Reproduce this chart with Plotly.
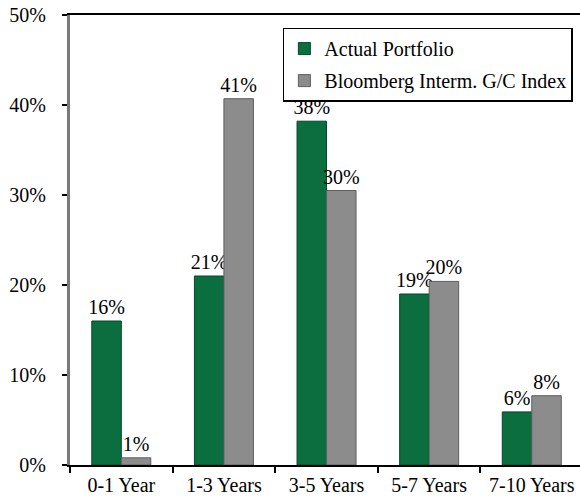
import plotly.graph_objects as go

categories = ["0-1 Year", "1-3 Years", "3-5 Years", "5-7 Years", "7-10 Years"]
portfolio = [16.0, 21.0, 38.2, 19.0, 5.9]
index_vals = [0.8, 40.7, 30.5, 20.4, 7.7]
y_ticks = [0, 10, 20, 30, 40, 50]
y_labels = ["0%", "10%", "20%", "30%", "40%", "50%"]

FONT = "Liberation Serif"

fig = go.Figure()
fig.add_trace(go.Bar(
    x=categories, y=portfolio, name="Actual Portfolio",
    marker=dict(color="#0b6e3f", line=dict(color="#05462a", width=1)),
    text=[f"{v:.0f}%" for v in portfolio], textposition="outside",
    textfont=dict(family=FONT, size=20, color="black"),
    constraintext="none",
    cliponaxis=False, legendgroup="a",
))
fig.add_trace(go.Bar(
    x=categories, y=index_vals, name="Bloomberg Interm. G/C Index",
    marker=dict(color="#8c8c8c", line=dict(color="#5e5e5e", width=1)),
    text=[f"{v:.0f}%" for v in index_vals], textposition="outside",
    textfont=dict(family=FONT, size=20, color="black"),
    constraintext="none",
    cliponaxis=False, legendgroup="b",
))

fig.update_layout(
    width=580, height=500,
    margin=dict(l=70, r=0, t=15, b=35, autoexpand=False),
    paper_bgcolor="white", plot_bgcolor="white",
    font=dict(family=FONT, size=20, color="black"),
    barmode="group", bargap=0.425, bargroupgap=0,
    showlegend=True,
    legend=dict(
        x=0.986, y=0.972, xanchor="right", yanchor="top",
        bordercolor="black", borderwidth=1.5, bgcolor="white",
        font=dict(family=FONT, size=20, color="black"),
        traceorder="grouped", tracegroupgap=3,
        itemwidth=30,
    ),
    xaxis=dict(
        type="category", range=[-0.5, 4.47], automargin=False,
        showline=True, linecolor="black", linewidth=2, mirror=True,
        ticks="outside", tickson="boundaries", ticklen=6, tickcolor="black", tickwidth=2,
        showgrid=False, ticklabelstandoff=1,
        tickfont=dict(family=FONT, size=20, color="black"),
    ),
    yaxis=dict(
        range=[0, 50], tickvals=y_ticks, ticktext=y_labels, automargin=False,
        showline=True, linecolor="#7a7a7a", linewidth=3,
        ticks="outside", ticklen=5, tickcolor="black", tickwidth=2,
        showgrid=False, zeroline=False, ticklabelstandoff=12,
        tickfont=dict(family=FONT, size=20, color="black"),
    ),
)

fig.write_html(
    "out.html",
    config={"displayModeBar": False},
    post_script="document.body.style.margin='0';document.body.style.overflow='hidden';",
)
